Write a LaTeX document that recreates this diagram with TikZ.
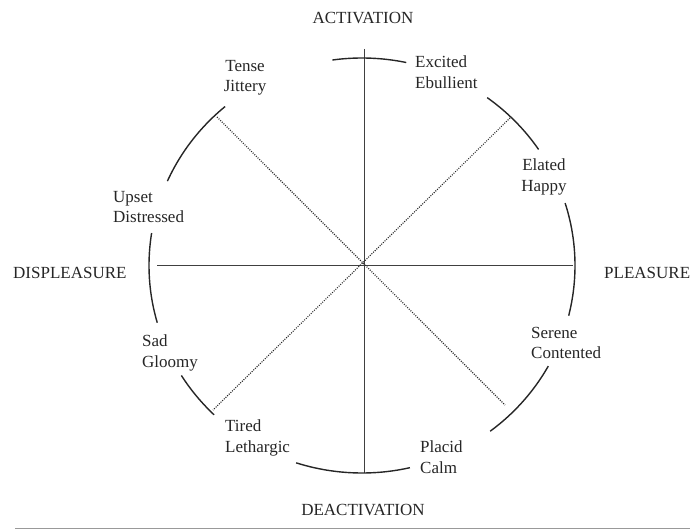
\documentclass[tikz,border=0pt]{standalone}
\usepackage{fontspec}
\setmainfont{Liberation Serif}
\begin{document}
\begin{tikzpicture}[x=1pt,y=-1pt,
  lbl/.style={inner sep=0pt, font=\fontsize{17}{20.5}\selectfont, text=black!85},
  arcline/.style={line width=1.4pt, black!85},
  axis/.style={line width=0.9pt, black!75},
  diag/.style={line width=1.1pt, dash pattern=on 1pt off 1.3pt, black!85}]
\useasboundingbox (0,0) rectangle (690,529);
% centre and radii of the circle
\def\cx{362}\def\cy{265.5}\def\rx{213}\def\ry{207.5}
\coordinate (c) at (364,265);
\coordinate (ntop) at (364,49);
\coordinate (nbot) at (364,473);
\coordinate (wl) at (157,265);
\coordinate (er) at (573,265);
\coordinate (ul) at (217,117);
\coordinate (ur) at (510,118);
\coordinate (ll) at (213,410);
\coordinate (lr) at (505,405);
% axes
\draw[axis] (ntop) -- (nbot);
\draw[axis] (wl) -- (er);
% diagonals
\draw[diag] (ul) -- (lr);
\draw[diag] (ur) -- (ll);
% arcs of the circle
\foreach \a/\b in {78/98, 34/54, -14/17.5, -53/-29, 252/283, 212/226, 171/196, 130/156}{
  \draw[arcline] plot[domain=\a:\b, samples=40, smooth] ({\cx+\rx*cos(\x)},{\cy-\ry*sin(\x)});
}
% labels
\node[lbl] (act) at (363,18) {ACTIVATION};
\node[lbl] (deact) at (363,510) {DEACTIVATION};
\node[lbl, anchor=west] (displ) at (13,273) {DISPLEASURE};
\node[lbl, anchor=west] (pleas) at (604,273) {PLEASURE};
\node[lbl, align=center] (tense) at (245,78) {Tense\\Jittery};
\node[lbl, align=left, anchor=west] (excited) at (415,72) {Excited\\Ebullient};
\node[lbl, align=center] (elated) at (544,177) {Elated\\Happy};
\node[lbl, align=left, anchor=west] (upset) at (113,207) {Upset\\Distressed};
\node[lbl, align=left, anchor=west] (sad) at (142,353) {Sad\\Gloomy};
\node[lbl, align=left, anchor=west] (serene) at (531,343) {Serene\\Contented};
\node[lbl, align=left, anchor=west] (tired) at (225,438) {Tired\\Lethargic};
\node[lbl, align=left, anchor=west] (placid) at (420,457) {Placid\\Calm};
% bottom rule
\coordinate (rl) at (15,528);
\coordinate (rr) at (690,528);
\draw[line width=1pt, black!40] (rl) -- (rr);
\end{tikzpicture}
\end{document}
